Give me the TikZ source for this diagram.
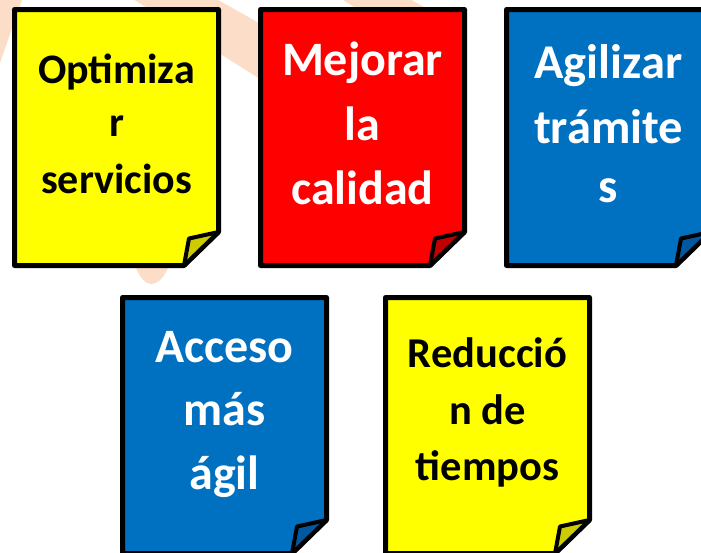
\documentclass[tikz,border=0pt]{standalone}
\usepackage{fontspec}
\setmainfont{Carlito}
\definecolor{peach}{RGB}{252,222,200}
\definecolor{nyellow}{RGB}{255,255,0}
\definecolor{nred}{RGB}{255,0,0}
\definecolor{nblue}{RGB}{0,112,192}
\definecolor{fyellow}{RGB}{204,204,0}
\definecolor{fred}{RGB}{192,0,0}
\definecolor{fblue}{RGB}{0,88,160}
\newcommand\lstrut{\rule[-.5\baselineskip]{0pt}{\baselineskip}}
\newcommand\stickynote[6]{%
  \draw[notebody, fill=#5] (#1,#2) -- (#3,#2) -- (#3,#4-33.5) -- (#3-34.5,#4) -- (#1,#4) -- cycle;
  \draw[noteflap, fill=#6] (#3,#4-33.5) -- (#3-29.5,#4-27) -- (#3-34.5,#4) -- cycle;
}
\tikzset{
  notebody/.style={draw=black, line width=5pt, line join=round},
  noteflap/.style={draw=black, line width=4pt, line join=round},
  notetext/.style={inner sep=0pt, align=center},
  bgshape/.style={fill=peach, draw=none},
}
\begin{document}
\begin{tikzpicture}[x=1pt,y=-1pt]
\useasboundingbox (0,0) rectangle (701,552);
\clip (0,0) rectangle (701,552);
% faint background shapes
\path[bgshape] (-40,-40) -- (36,-40) -- (-6,80) -- (-40,80) -- cycle;
\path[bgshape] (129,-50) -- (400,102) -- (400,167) -- (55,-50) -- cycle;
\path[bgshape] (360,-29) -- (440,16) -- (440,61) -- (300,-27) -- cycle;
\path[bgshape] (130,240) -- (172,240) -- (168,268) .. controls (163,280) and (156,284) .. (151,284) .. controls (146,284) and (140,278) .. (136,268) -- cycle;
% notes
\stickynote{14.5}{9.5}{218.5}{265.5}{nyellow}{fyellow}
\stickynote{260.5}{9.5}{464.5}{265.5}{nred}{fred}
\stickynote{506.5}{9.5}{710.5}{265.5}{nblue}{fblue}
\stickynote{122.5}{297.5}{326.5}{553.5}{nblue}{fblue}
\stickynote{385.5}{297.5}{589.5}{553.5}{nyellow}{fyellow}
% texts
\node[notetext, text=black, font=\bfseries\fontsize{42}{53}\selectfont] (t1) at (116.5,137) {\lstrut Optimiza\\\lstrut r\\\lstrut servicios};
\node[notetext, text=white, font=\bfseries\fontsize{48}{59}\selectfont] (t2) at (362.5,138) {\lstrut Mejorar\\\lstrut la\\\lstrut calidad};
\node[notetext, text=white, font=\bfseries\fontsize{48.5}{59}\selectfont] (t3) at (608.5,138) {\lstrut Agilizar\\\lstrut trámite\\\lstrut s};
\node[notetext, text=white, font=\bfseries\fontsize{48}{58}\selectfont] (t4) at (224.5,425) {\lstrut Acceso\\\lstrut más\\\lstrut ágil};
\node[notetext, text=black, font=\bfseries\fontsize{42.5}{51}\selectfont] (t5) at (487.5,422) {\lstrut Reducció\\\lstrut n de\\\lstrut tiempos};
\end{tikzpicture}
\end{document}
